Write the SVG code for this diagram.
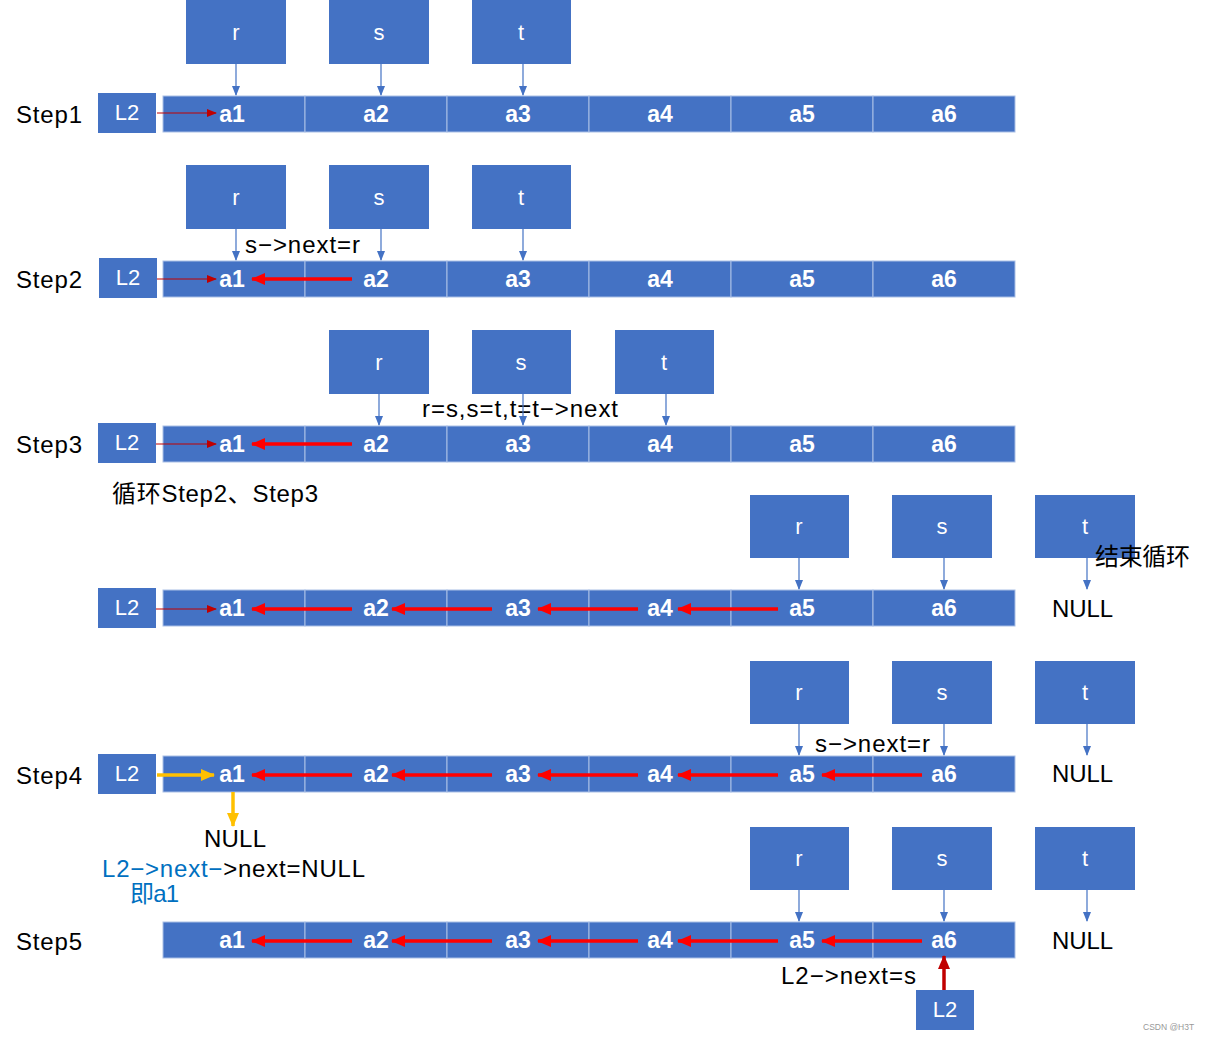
<svg xmlns="http://www.w3.org/2000/svg" width="1207" height="1040" viewBox="0 0 1207 1040">
<style>
.box{fill:#4472C4}
.cell{fill:#4472C4;stroke:#A9BFE6;stroke-width:1}
.wt{fill:#fff;font-family:"Liberation Sans","Noto Sans CJK SC",sans-serif;font-size:22px;text-anchor:middle;dominant-baseline:central}
.ct{fill:#fff;font-family:"Liberation Sans","Noto Sans CJK SC",sans-serif;font-size:23px;font-weight:bold;text-anchor:middle;dominant-baseline:central}
.lb{fill:#000;font-family:"Liberation Sans","Noto Sans CJK SC",sans-serif;font-size:24px;dominant-baseline:central}
.blue{fill:#0070C0}
.ptr{stroke:#4472C4;stroke-width:1.2;fill:none;marker-end:url(#mb)}
.thin{stroke:#C00000;stroke-width:1.2;fill:none;marker-end:url(#mdr)}
.red{stroke:#FF0000;stroke-width:3.5;fill:none;marker-end:url(#mr)}
.yel{stroke:#FFC000;stroke-width:3.5;fill:none;marker-end:url(#my)}
.dred{stroke:#C00000;stroke-width:3.5;fill:none;marker-end:url(#mdr2)}
</style>
<defs>
<marker id="mb" markerWidth="10" markerHeight="8" refX="9" refY="4" orient="auto" markerUnits="userSpaceOnUse"><path d="M0,0 L10,4 L0,8 z" fill="#4472C4"/></marker>
<marker id="mdr" markerWidth="10" markerHeight="8" refX="9" refY="4" orient="auto" markerUnits="userSpaceOnUse"><path d="M0,0 L10,4 L0,8 z" fill="#C00000"/></marker>
<marker id="mr" markerWidth="14" markerHeight="12" refX="13" refY="6" orient="auto" markerUnits="userSpaceOnUse"><path d="M0,0 L14,6 L0,12 z" fill="#FF0000"/></marker>
<marker id="my" markerWidth="14" markerHeight="12" refX="13" refY="6" orient="auto" markerUnits="userSpaceOnUse"><path d="M0,0 L14,6 L0,12 z" fill="#FFC000"/></marker>
<marker id="mdr2" markerWidth="14" markerHeight="12" refX="13" refY="6" orient="auto" markerUnits="userSpaceOnUse"><path d="M0,0 L14,6 L0,12 z" fill="#C00000"/></marker>
</defs>

<!-- Row 1 -->
<g id="row1">
<g id="r1-r"><rect class="box" x="186" y="0" width="100" height="64"/><text class="wt" x="236" y="32">r</text></g>
<g id="r1-s"><rect class="box" x="329" y="0" width="100" height="64"/><text class="wt" x="379" y="32">s</text></g>
<g id="r1-t"><rect class="box" x="472" y="0" width="99" height="64"/><text class="wt" x="521" y="32">t</text></g>
<g id="r1-L2"><rect class="box" x="98" y="93" width="58" height="40"/><text class="wt" x="127" y="112">L2</text></g>
<g id="r1-arr">
<rect class="cell" x="163" y="96" width="142" height="36"/><text class="ct" x="232" y="114">a1</text>
<rect class="cell" x="305" y="96" width="142" height="36"/><text class="ct" x="376" y="114">a2</text>
<rect class="cell" x="447" y="96" width="142" height="36"/><text class="ct" x="518" y="114">a3</text>
<rect class="cell" x="589" y="96" width="142" height="36"/><text class="ct" x="660" y="114">a4</text>
<rect class="cell" x="731" y="96" width="142" height="36"/><text class="ct" x="802" y="114">a5</text>
<rect class="cell" x="873" y="96" width="142" height="36"/><text class="ct" x="944" y="114">a6</text>
</g>
<text class="lb" x="16" y="114" textLength="66">Step1</text>
</g>

<!-- Row 2 -->
<g id="row2">
<g id="r2-r"><rect class="box" x="186" y="165" width="100" height="64"/><text class="wt" x="236" y="197">r</text></g>
<g id="r2-s"><rect class="box" x="329" y="165" width="100" height="64"/><text class="wt" x="379" y="197">s</text></g>
<g id="r2-t"><rect class="box" x="472" y="165" width="99" height="64"/><text class="wt" x="521" y="197">t</text></g>
<g id="r2-L2"><rect class="box" x="99" y="258" width="58" height="40"/><text class="wt" x="128" y="277">L2</text></g>
<g id="r2-arr">
<rect class="cell" x="163" y="261" width="142" height="36"/><text class="ct" x="232" y="279">a1</text>
<rect class="cell" x="305" y="261" width="142" height="36"/><text class="ct" x="376" y="279">a2</text>
<rect class="cell" x="447" y="261" width="142" height="36"/><text class="ct" x="518" y="279">a3</text>
<rect class="cell" x="589" y="261" width="142" height="36"/><text class="ct" x="660" y="279">a4</text>
<rect class="cell" x="731" y="261" width="142" height="36"/><text class="ct" x="802" y="279">a5</text>
<rect class="cell" x="873" y="261" width="142" height="36"/><text class="ct" x="944" y="279">a6</text>
</g>
<text class="lb" x="16" y="279" textLength="66">Step2</text>
<text class="lb" x="245" y="244" textLength="115">s−&gt;next=r</text>
</g>

<!-- Row 3 -->
<g id="row3">
<g id="r3-r"><rect class="box" x="329" y="330" width="100" height="64"/><text class="wt" x="379" y="362">r</text></g>
<g id="r3-s"><rect class="box" x="472" y="330" width="99" height="64"/><text class="wt" x="521" y="362">s</text></g>
<g id="r3-t"><rect class="box" x="615" y="330" width="99" height="64"/><text class="wt" x="664" y="362">t</text></g>
<g id="r3-L2"><rect class="box" x="98" y="423" width="58" height="40"/><text class="wt" x="127" y="442">L2</text></g>
<g id="r3-arr">
<rect class="cell" x="163" y="426" width="142" height="36"/><text class="ct" x="232" y="444">a1</text>
<rect class="cell" x="305" y="426" width="142" height="36"/><text class="ct" x="376" y="444">a2</text>
<rect class="cell" x="447" y="426" width="142" height="36"/><text class="ct" x="518" y="444">a3</text>
<rect class="cell" x="589" y="426" width="142" height="36"/><text class="ct" x="660" y="444">a4</text>
<rect class="cell" x="731" y="426" width="142" height="36"/><text class="ct" x="802" y="444">a5</text>
<rect class="cell" x="873" y="426" width="142" height="36"/><text class="ct" x="944" y="444">a6</text>
</g>
<text class="lb" x="16" y="444" textLength="66">Step3</text>
<text class="lb" x="422" y="408" textLength="196">r=s,s=t,t=t−&gt;next</text>
<text class="lb" x="112" y="493" textLength="206">循环Step2、Step3</text>
</g>

<!-- Row 4 (loop end) -->
<g id="row4">
<g id="r4-r"><rect class="box" x="750" y="495" width="99" height="63"/><text class="wt" x="799" y="526">r</text></g>
<g id="r4-s"><rect class="box" x="892" y="495" width="100" height="63"/><text class="wt" x="942" y="526">s</text></g>
<g id="r4-t"><rect class="box" x="1035" y="495" width="100" height="63"/><text class="wt" x="1085" y="526">t</text></g>
<g id="r4-L2"><rect class="box" x="98" y="588" width="58" height="40"/><text class="wt" x="127" y="607">L2</text></g>
<g id="r4-arr">
<rect class="cell" x="163" y="590" width="142" height="36"/><text class="ct" x="232" y="608">a1</text>
<rect class="cell" x="305" y="590" width="142" height="36"/><text class="ct" x="376" y="608">a2</text>
<rect class="cell" x="447" y="590" width="142" height="36"/><text class="ct" x="518" y="608">a3</text>
<rect class="cell" x="589" y="590" width="142" height="36"/><text class="ct" x="660" y="608">a4</text>
<rect class="cell" x="731" y="590" width="142" height="36"/><text class="ct" x="802" y="608">a5</text>
<rect class="cell" x="873" y="590" width="142" height="36"/><text class="ct" x="944" y="608">a6</text>
</g>
<text class="lb" x="1095" y="556" textLength="95">结束循环</text>
<text class="lb" x="1052" y="608" textLength="61">NULL</text>
</g>

<!-- Row 5 (Step4) -->
<g id="row5">
<g id="r5-r"><rect class="box" x="750" y="661" width="99" height="63"/><text class="wt" x="799" y="692">r</text></g>
<g id="r5-s"><rect class="box" x="892" y="661" width="100" height="63"/><text class="wt" x="942" y="692">s</text></g>
<g id="r5-t"><rect class="box" x="1035" y="661" width="100" height="63"/><text class="wt" x="1085" y="692">t</text></g>
<g id="r5-L2"><rect class="box" x="98" y="754" width="58" height="40"/><text class="wt" x="127" y="773">L2</text></g>
<g id="r5-arr">
<rect class="cell" x="163" y="756" width="142" height="36"/><text class="ct" x="232" y="774">a1</text>
<rect class="cell" x="305" y="756" width="142" height="36"/><text class="ct" x="376" y="774">a2</text>
<rect class="cell" x="447" y="756" width="142" height="36"/><text class="ct" x="518" y="774">a3</text>
<rect class="cell" x="589" y="756" width="142" height="36"/><text class="ct" x="660" y="774">a4</text>
<rect class="cell" x="731" y="756" width="142" height="36"/><text class="ct" x="802" y="774">a5</text>
<rect class="cell" x="873" y="756" width="142" height="36"/><text class="ct" x="944" y="774">a6</text>
</g>
<text class="lb" x="16" y="775" textLength="66">Step4</text>
<text class="lb" x="815" y="743" textLength="115">s−&gt;next=r</text>
<text class="lb" x="1052" y="773" textLength="61">NULL</text>
<text class="lb" x="204" y="838" textLength="62">NULL</text>
<text class="lb" x="102" y="868" textLength="263"><tspan class="blue">L2−&gt;next−</tspan>&gt;next=NULL</text>
<text class="lb blue" x="130" y="893" textLength="49">即a1</text>
</g>

<!-- Row 6 (Step5) -->
<g id="row6">
<g id="r6-r"><rect class="box" x="750" y="827" width="99" height="63"/><text class="wt" x="799" y="858">r</text></g>
<g id="r6-s"><rect class="box" x="892" y="827" width="100" height="63"/><text class="wt" x="942" y="858">s</text></g>
<g id="r6-t"><rect class="box" x="1035" y="827" width="100" height="63"/><text class="wt" x="1085" y="858">t</text></g>
<g id="r6-arr">
<rect class="cell" x="163" y="922" width="142" height="36"/><text class="ct" x="232" y="940">a1</text>
<rect class="cell" x="305" y="922" width="142" height="36"/><text class="ct" x="376" y="940">a2</text>
<rect class="cell" x="447" y="922" width="142" height="36"/><text class="ct" x="518" y="940">a3</text>
<rect class="cell" x="589" y="922" width="142" height="36"/><text class="ct" x="660" y="940">a4</text>
<rect class="cell" x="731" y="922" width="142" height="36"/><text class="ct" x="802" y="940">a5</text>
<rect class="cell" x="873" y="922" width="142" height="36"/><text class="ct" x="944" y="940">a6</text>
</g>
<g id="r6-L2"><rect class="box" x="916" y="990" width="58" height="40"/><text class="wt" x="945" y="1009">L2</text></g>
<text class="lb" x="16" y="941" textLength="66">Step5</text>
<text class="lb" x="1052" y="940" textLength="61">NULL</text>
<text class="lb" x="781" y="975" textLength="135">L2−&gt;next=s</text>
</g>

<text x="1143" y="1027" fill="#999" font-family="Liberation Sans,sans-serif" font-size="8.5" dominant-baseline="central">CSDN @H3T</text>

<!-- connectors -->
<g id="connectors">
<line class="ptr" x1="236" y1="64" x2="236" y2="95"/>
<line class="ptr" x1="381" y1="64" x2="381" y2="95"/>
<line class="ptr" x1="523" y1="64" x2="523" y2="95"/>
<line class="thin" x1="157" y1="113" x2="216" y2="113"/>

<line class="ptr" x1="236" y1="229" x2="236" y2="260"/>
<line class="ptr" x1="381" y1="229" x2="381" y2="260"/>
<line class="ptr" x1="523" y1="229" x2="523" y2="260"/>
<line class="thin" x1="157" y1="279" x2="216" y2="279"/>
<line class="red" x1="352" y1="279" x2="252" y2="279"/>

<line class="ptr" x1="379" y1="394" x2="379" y2="425"/>
<line class="ptr" x1="523" y1="394" x2="523" y2="425"/>
<line class="ptr" x1="666" y1="394" x2="666" y2="425"/>
<line class="thin" x1="156" y1="444" x2="216" y2="444"/>
<line class="red" x1="352" y1="444" x2="252" y2="444"/>

<line class="ptr" x1="799" y1="558" x2="799" y2="589"/>
<line class="ptr" x1="944" y1="558" x2="944" y2="589"/>
<line class="ptr" x1="1087" y1="558" x2="1087" y2="589"/>
<line class="thin" x1="156" y1="609" x2="216" y2="609"/>
<line class="red" x1="352" y1="609" x2="252" y2="609"/>
<line class="red" x1="492" y1="609" x2="392" y2="609"/>
<line class="red" x1="638" y1="609" x2="538" y2="609"/>
<line class="red" x1="778" y1="609" x2="678" y2="609"/>

<line class="ptr" x1="799" y1="724" x2="799" y2="755"/>
<line class="ptr" x1="944" y1="724" x2="944" y2="755"/>
<line class="ptr" x1="1087" y1="724" x2="1087" y2="755"/>
<line class="yel" x1="157" y1="775" x2="214" y2="775"/>
<line class="yel" x1="233" y1="792" x2="233" y2="826"/>
<line class="red" x1="352" y1="775" x2="252" y2="775"/>
<line class="red" x1="492" y1="775" x2="392" y2="775"/>
<line class="red" x1="638" y1="775" x2="538" y2="775"/>
<line class="red" x1="778" y1="775" x2="678" y2="775"/>
<line class="red" x1="922" y1="775" x2="822" y2="775"/>

<line class="ptr" x1="799" y1="890" x2="799" y2="921"/>
<line class="ptr" x1="944" y1="890" x2="944" y2="921"/>
<line class="ptr" x1="1087" y1="890" x2="1087" y2="921"/>
<line class="red" x1="352" y1="941" x2="252" y2="941"/>
<line class="red" x1="492" y1="941" x2="392" y2="941"/>
<line class="red" x1="638" y1="941" x2="538" y2="941"/>
<line class="red" x1="778" y1="941" x2="678" y2="941"/>
<line class="red" x1="922" y1="941" x2="822" y2="941"/>
<line class="dred" x1="944" y1="990" x2="944" y2="956"/>
</g>
</svg>
